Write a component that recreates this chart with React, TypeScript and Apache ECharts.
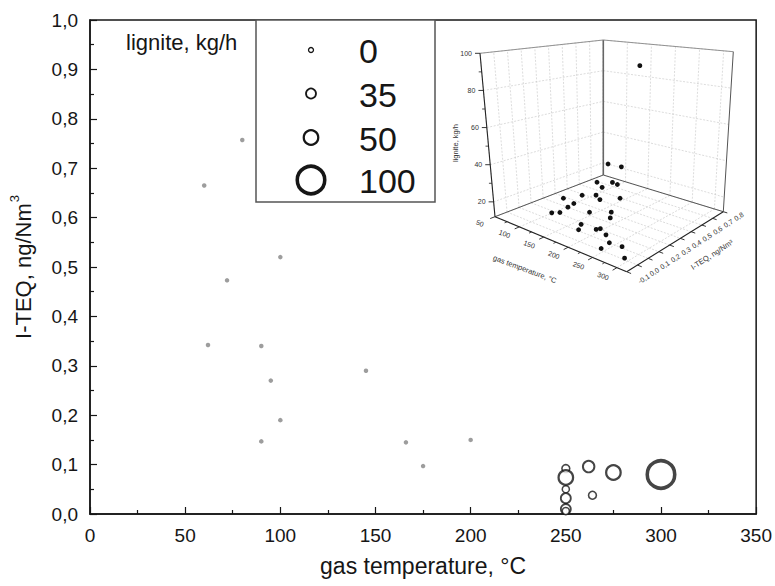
import React, { useEffect, useRef } from "react";
import * as echarts from "echarts";

// ---------- main chart data ----------
// points measured without lignite (0 kg/h)
const tempZero = [60, 62, 72, 80, 90, 90, 95, 100, 100, 145, 166, 175, 200];
const teqZero = [0.665, 0.342, 0.473, 0.757, 0.34, 0.147, 0.27, 0.52, 0.19, 0.29, 0.145, 0.097, 0.15];

// points measured with lignite dosing (bubble size = lignite, kg/h)
const tempLig = [250, 250, 250, 250, 250, 250, 262, 264, 275, 300];
const teqLig = [0.05, 0.092, 0.074, 0.032, 0.01, 0.006, 0.096, 0.038, 0.084, 0.08];
const ligLig = [15, 20, 50, 35, 35, 15, 40, 20, 50, 100];

// legend
const legendValues = [0, 35, 50, 100];

// axis ticks
const xTicks = [0, 50, 100, 150, 200, 250, 300, 350];
const yTicks = [0, 0.1, 0.2, 0.3, 0.4, 0.5, 0.6, 0.7, 0.8, 0.9, 1.0];

// ---------- inset (3D) data ----------
const insetTemp = [300, 173, 198, 159, 151, 190, 153, 126, 168, 159, 180, 139, 139, 117, 114, 147, 180, 231, 219, 176, 186, 230, 209, 254, 252, 241, 276, 290];
const insetTeq = [0.08, 0.366, 0.377, 0.328, 0.491, 0.376, 0.395, 0.332, 0.282, 0.351, 0.44, 0.123, 0.209, 0.245, 0.12, 0.057, 0.175, 0.151, 0.193, 0.117, 0.053, 0.021, 0.147, 0.004, 0.043, 0.017, 0.053, 0.015];
const insetLig = [100, 40, 40, 30, 25, 30, 25, 20, 25, 20, 20, 25, 20, 15, 15, 20, 20, 25, 20, 15, 15, 20, 15, 20, 15, 12, 15, 12];

const insetTempTicks = [50, 100, 150, 200, 250, 300];
const insetTempMinor = [75, 125, 175, 225, 275];
const insetTeqTicks = [-0.1, 0, 0.1, 0.2, 0.3, 0.4, 0.5, 0.6, 0.7, 0.8];
const insetLigTicks = [20, 40, 60, 80, 100];
const insetLigMinor = [30, 50, 70, 90];

const FONT = "'Liberation Sans', Arial, Helvetica, sans-serif";
const INK = "#161616";

// ---------- helpers ----------
const SIZE_PTS = [
  [0, 5],
  [35, 10],
  [50, 14.5],
  [100, 27.5],
];
function sizeOf(g: number) {
  for (let i = 1; i < SIZE_PTS.length; i++) {
    const [a, sa] = SIZE_PTS[i - 1];
    const [b, sb] = SIZE_PTS[i];
    if (g <= b) return sa + ((g - a) / (b - a)) * (sb - sa);
  }
  return SIZE_PTS[SIZE_PTS.length - 1][1];
}
const borderOf = (s: number) => 0.8 + s * 0.1;
const comma = (v: number, d = 1) => v.toFixed(d).replace(".", ",");

// 3D inset projection (perspective box approximated by bilinear corner interpolation)
const T_MIN = 50, T_MAX = 320, Q_MIN = -0.1, Q_MAX = 0.8, G_MIN = 12, G_MAX = 100;
const FL = [495, 216.7], FF = [626.7, 271.7], FR = [723.3, 211.7], FB = [603.3, 175];
const TL = [480, 53.3], TF = [630, 70.7], TR = [733.3, 51.7], TB = [603.3, 40];
function bil(a: number[], b: number[], c: number[], d: number[], u: number, v: number) {
  const k0 = (1 - u) * (1 - v), k1 = u * (1 - v), k2 = u * v, k3 = (1 - u) * v;
  return [a[0] * k0 + b[0] * k1 + c[0] * k2 + d[0] * k3, a[1] * k0 + b[1] * k1 + c[1] * k2 + d[1] * k3];
}
function project(T: number, q: number, g: number) {
  const u = (T - T_MIN) / (T_MAX - T_MIN);
  const v = (q - Q_MIN) / (Q_MAX - Q_MIN);
  const w = (g - G_MIN) / (G_MAX - G_MIN);
  const f = bil(FL, FF, FR, FB, u, v);
  const t = bil(TL, TF, TR, TB, u, v);
  return [f[0] + (t[0] - f[0]) * w, f[1] + (t[1] - f[1]) * w];
}

function buildGraphics() {
  const els: any[] = [];
  const line = (a: number[], b: number[], stroke: string, lw: number, dash?: number[]) =>
    els.push({
      type: "line",
      silent: true,
      shape: { x1: a[0], y1: a[1], x2: b[0], y2: b[1] },
      style: { stroke, lineWidth: lw, lineDash: dash },
    });
  const text = (s: string, x: number, y: number, size: number, align: string, vAlign: string, rotation = 0, fill = INK) =>
    els.push({
      type: "text",
      silent: true,
      x,
      y,
      rotation,
      style: {
        text: s,
        x: 0,
        y: 0,
        font: `${size}px ${FONT}`,
        fill,
        align,
        verticalAlign: vAlign,
        textAlign: align,
        textVerticalAlign: vAlign,
      },
    });

  // ----- legend -----
  text("lignite, kg/h", 126, 42, 22, "left", "middle");
  els.push({
    type: "rect",
    silent: true,
    shape: { x: 256, y: 20, width: 179, height: 182 },
    style: { fill: "#fff", stroke: "#555", lineWidth: 1.5 },
  });
  const rowY = [50, 93.5, 137.5, 180];
  legendValues.forEach((val, i) => {
    const s = sizeOf(val);
    els.push({
      type: "circle",
      silent: true,
      shape: { cx: 311, cy: rowY[i], r: s / 2 },
      style: { fill: "#fff", stroke: INK, lineWidth: borderOf(s) },
    });
    text(String(val), 359, rowY[i] + 1, 34, "left", "middle");
  });

  // ----- inset 3D box -----
  const grid = "#c4c4c4";
  const gd = [2, 1.5];
  // floor grid
  insetTempTicks.forEach((T) => line(project(T, Q_MIN, G_MIN), project(T, Q_MAX, G_MIN), grid, 0.6, gd));
  insetTeqTicks.forEach((q) => line(project(T_MIN, q, G_MIN), project(T_MAX, q, G_MIN), grid, 0.6, gd));
  // left wall (T = min)
  insetTeqTicks.forEach((q) => line(project(T_MIN, q, G_MIN), project(T_MIN, q, G_MAX), grid, 0.6, gd));
  insetLigTicks.forEach((g) => line(project(T_MIN, Q_MIN, g), project(T_MIN, Q_MAX, g), grid, 0.6, gd));
  // back wall (TEQ = max)
  insetTempTicks.forEach((T) => line(project(T, Q_MAX, G_MIN), project(T, Q_MAX, G_MAX), grid, 0.6, gd));
  insetLigTicks.forEach((g) => line(project(T_MIN, Q_MAX, g), project(T_MAX, Q_MAX, g), grid, 0.6, gd));

  // frame edges
  const edge = "#555";
  line(project(T_MIN, Q_MAX, G_MIN), project(T_MIN, Q_MAX, G_MAX), "#666", 1.6);
  line(project(T_MAX, Q_MAX, G_MIN), project(T_MAX, Q_MAX, G_MAX), edge, 1);
  line(project(T_MIN, Q_MIN, G_MAX), project(T_MIN, Q_MAX, G_MAX), "#888", 0.9);
  line(project(T_MIN, Q_MAX, G_MAX), project(T_MAX, Q_MAX, G_MAX), "#888", 0.9);
  line(project(T_MIN, Q_MIN, G_MIN), project(T_MIN, Q_MAX, G_MIN), edge, 1);
  line(project(T_MIN, Q_MAX, G_MIN), project(T_MAX, Q_MAX, G_MIN), edge, 1);
  // axes
  line(project(T_MIN, Q_MIN, G_MIN), project(T_MIN, Q_MIN, G_MAX), "#222", 1.1);
  line(project(T_MIN, Q_MIN, G_MIN), project(T_MAX, Q_MIN, G_MIN), "#222", 1.1);
  line(project(T_MAX, Q_MIN, G_MIN), project(T_MAX, Q_MAX, G_MIN), "#222", 1.1);

  // temperature axis ticks + labels
  insetTempTicks.forEach((T) => {
    line(project(T, Q_MIN, G_MIN), project(T, Q_MIN - 0.04, G_MIN), "#222", 0.9);
    const p = project(T, Q_MIN - 0.1, G_MIN);
    text(String(T), p[0] - 3, p[1] + 2, 7, "center", "middle", -0.35, "#333");
  });
  insetTempMinor.forEach((T) => line(project(T, Q_MIN, G_MIN), project(T, Q_MIN - 0.022, G_MIN), "#222", 0.8));
  // TEQ axis ticks + labels
  insetTeqTicks.forEach((q) => {
    line(project(T_MAX, q, G_MIN), project(T_MAX + 9, q, G_MIN), "#222", 0.9);
    const p = project(T_MAX + 35, q, G_MIN);
    text(comma(q), p[0], p[1], 7, "center", "middle", 0.55, "#333");
  });
  // lignite axis ticks + labels
  insetLigTicks.forEach((g) => {
    const p = project(T_MIN, Q_MIN, g);
    line(p, [p[0] - 5, p[1]], "#222", 0.9);
    text(String(g), p[0] - 8, p[1], 7, "right", "middle", 0, "#333");
  });
  insetLigMinor.forEach((g) => {
    const p = project(T_MIN, Q_MIN, g);
    line(p, [p[0] - 3, p[1]], "#222", 0.8);
  });
  // inset titles
  const pg = project(T_MIN, Q_MIN, (G_MIN + G_MAX) / 2);
  text("lignite, kg/h", pg[0] - 32, pg[1] + 8, 7.5, "center", "middle", Math.PI / 2, "#333");
  const pt = project((T_MIN + T_MAX) / 2, Q_MIN, G_MIN);
  text("gas temperature, °C", pt[0] - 36, pt[1] + 25, 7.5, "center", "middle", -0.36, "#333");
  const pq = project(T_MAX, (Q_MIN + Q_MAX) / 2, G_MIN);
  text("I-TEQ, ng/Nm³", pq[0] + 37, pq[1] + 13, 7.5, "center", "middle", 0.575, "#333");

  return els;
}

export default function App() {
  const ref = useRef<HTMLDivElement>(null);

  useEffect(() => {
    const el = ref.current;
    if (!el) return;
    const chart = echarts.init(el, null, { renderer: "svg" });

    const axisCommon = {
      type: "value",
      axisLine: { show: true, lineStyle: { color: INK, width: 1.5 } },
      axisTick: { show: true, inside: true, length: 7, lineStyle: { color: INK, width: 1.2 } },
      minorTick: { show: true, splitNumber: 2, length: 4, lineStyle: { color: INK, width: 1.2 } },
      splitLine: { show: false },
      nameLocation: "middle",
    };

    const option: any = {
      animation: false,
      backgroundColor: "#ffffff",
      grid: {
        left: 90,
        right: 17,
        top: 20,
        bottom: 72,
        show: true,
        borderColor: INK,
        borderWidth: 1.5,
        backgroundColor: "transparent",
      },
      xAxis: {
        ...axisCommon,
        min: xTicks[0],
        max: xTicks[xTicks.length - 1],
        interval: xTicks[1] - xTicks[0],
        name: "gas temperature, °C",
        nameGap: 40,
        nameTextStyle: { fontFamily: FONT, fontSize: 23, color: INK },
        axisLabel: { fontFamily: FONT, fontSize: 19, color: INK, margin: 12 },
      },
      yAxis: {
        ...axisCommon,
        min: yTicks[0],
        max: yTicks[yTicks.length - 1],
        interval: 0.1,
        name: "{a|I-TEQ, ng/Nm}{b|3}",
        nameGap: 56,
        nameTextStyle: {
          fontFamily: FONT,
          fontSize: 22,
          color: INK,
          rich: {
            a: { fontFamily: FONT, fontSize: 22, color: INK, lineHeight: 26, verticalAlign: "bottom" },
            b: { fontFamily: FONT, fontSize: 13, color: INK, lineHeight: 26, verticalAlign: "top", padding: [0, 0, 9, 1] },
          },
        },
        axisLabel: { fontFamily: FONT, fontSize: 19, color: INK, margin: 12, formatter: (v: number) => comma(v) },
      },
      graphic: { elements: buildGraphics() },
      series: [
        {
          name: "lignite 0 kg/h",
          type: "scatter",
          symbol: "circle",
          symbolSize: 4.5,
          itemStyle: { color: "#858585" },
          z: 3,
          data: tempZero.map((t, i) => [t, teqZero[i]]),
        },
        {
          name: "lignite dosing",
          type: "scatter",
          symbol: "circle",
          z: 4,
          data: tempLig.map((t, i) => {
            const s = sizeOf(ligLig[i]);
            return {
              value: [t, teqLig[i], ligLig[i]],
              symbolSize: s,
              itemStyle: { color: "#ffffff", borderColor: INK, borderWidth: borderOf(s) },
            };
          }),
        },
        {
          name: "inset 3D",
          type: "custom",
          coordinateSystem: "none",
          silent: true,
          z: 6,
          dimensions: ["T", "TEQ", "lignite"],
          data: insetTemp.map((t, i) => [t, insetTeq[i], insetLig[i]]),
          renderItem: (_params: any, api: any) => {
            const p = project(api.value(0), api.value(1), api.value(2));
            return { type: "circle", shape: { cx: p[0], cy: p[1], r: 2.4 }, style: { fill: "#111" } };
          },
        },
      ],
    };

    chart.setOption(option);
    return () => chart.dispose();
  }, []);

  return (
    <div
      ref={ref}
      style={{ position: "fixed", left: 0, top: 0, width: 775, height: 586, background: "#fff" }}
    />
  );
}
